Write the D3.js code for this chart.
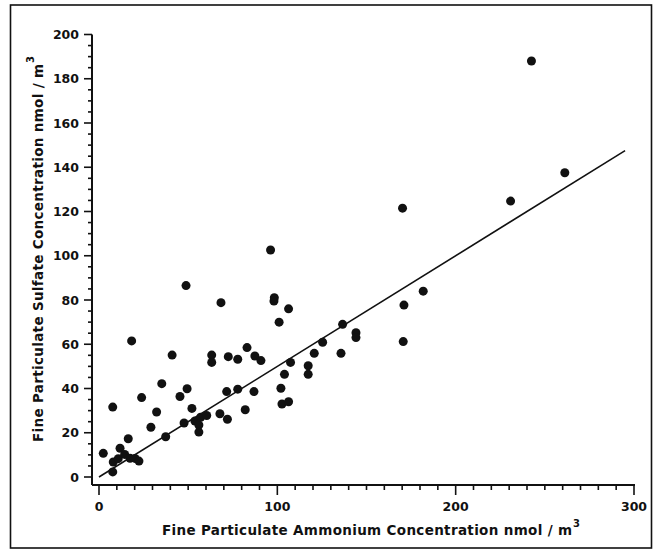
<!DOCTYPE html>
<html>
<head>
<meta charset="utf-8">
<script src="https://cdn.jsdelivr.net/npm/d3@7"></script>
<style>
  html, body { margin: 0; padding: 0; background: #fff; }
  svg { display: block; }
  text { font-family: "DejaVu Sans", sans-serif; font-weight: bold; fill: #111; }
</style>
</head>
<body>
<svg id="chart" width="658" height="554"></svg>
<script>
// Fine particulate ammonium (x) vs sulfate (y), nmol/m3
const ammonium = [2.4, 7.7, 7.7, 8, 10.8, 11.8, 14.4, 17.4, 20.2, 22.4, 16.4, 18.3, 23.9, 29.1, 32.3, 35.2, 37.4, 41, 45.4, 47.7,
  48.8, 49.4, 52.1, 53.8, 56, 56, 57, 60.4, 63.2, 63.2, 67.8, 68.4, 71.6, 72, 72.5, 77.8, 77.8, 82, 83, 86.9,
  87.4, 90.8, 96.2, 98.1, 98.3, 101, 102, 102.6, 104, 106.3, 106.3, 107.4, 117.3, 117.3, 120.7, 125.4, 135.7, 136.6, 144.1, 144.1,
  170.6, 171, 170.2, 181.8, 230.8, 242.5, 261.2];
const sulfate = [10.7, 31.6, 2.3, 6.8, 8.3, 13, 10.2, 8.5, 8.4, 7.2, 17.3, 61.5, 35.9, 22.5, 29.4, 42.2, 18.2, 55.1, 36.4, 24.4,
  86.5, 39.9, 31, 25.3, 23.5, 20.3, 27, 27.8, 55.1, 51.8, 28.6, 78.8, 38.6, 26.1, 54.4, 53.2, 39.7, 30.4, 58.5, 38.6,
  54.7, 52.6, 102.6, 79.5, 81, 70, 40.1, 33, 46.4, 76, 34, 51.8, 50.3, 46.4, 55.9, 60.9, 55.9, 69, 65.2, 63,
  61.2, 77.7, 121.5, 84, 124.7, 188, 137.5];
const fitX = [0, 295];
const fitY = [0, 147.5];
const xTickLabels = [0, 100, 200, 300];
const yTickLabels = [0, 20, 40, 60, 80, 100, 120, 140, 160, 180, 200];
const xTitle = "Fine Particulate  Ammonium Concentration nmol / m";
const yTitle = "Fine Particulate Sulfate Concentration nmol / m";

const svg = d3.select("#chart");
const x = d3.scaleLinear().domain([0, 300]).range([99, 634]);
const y = d3.scaleLinear().domain([0, 200]).range([477, 34.5]);
const axisX = 92, axisY = 485;

// outer frame
svg.append("rect").attr("x", 10.5).attr("y", 5).attr("width", 641).attr("height", 543)
  .attr("fill", "none").attr("stroke", "#111").attr("stroke-width", 1.6);

// y axis
const gy = svg.append("g");
gy.append("line").attr("x1", axisX).attr("x2", axisX).attr("y1", y(200)).attr("y2", axisY)
  .attr("stroke", "#111").attr("stroke-width", 2);
gy.selectAll("line.tk").data(d3.range(0, 201, 5)).join("line").attr("class", "tk")
  .attr("x1", d => axisX - (d % 20 === 0 ? 8 : 4)).attr("x2", axisX)
  .attr("y1", d => y(d)).attr("y2", d => y(d))
  .attr("stroke", "#111").attr("stroke-width", 1.6);
gy.selectAll("text").data(yTickLabels).join("text")
  .attr("x", 79).attr("y", d => y(d)).attr("dy", "0.36em")
  .attr("text-anchor", "end").attr("font-size", 12.5).text(d => d);

// x axis
const gx = svg.append("g");
gx.append("line").attr("x1", axisX).attr("x2", x(300) + 1).attr("y1", axisY).attr("y2", axisY)
  .attr("stroke", "#111").attr("stroke-width", 2);
gx.selectAll("line.tk").data(d3.range(0, 301, 10)).join("line").attr("class", "tk")
  .attr("x1", d => x(d)).attr("x2", d => x(d))
  .attr("y1", axisY).attr("y2", d => axisY + (d % 100 === 0 ? 10 : 5))
  .attr("stroke", "#111").attr("stroke-width", 1.6);
gx.selectAll("text").data(xTickLabels).join("text")
  .attr("x", d => x(d)).attr("y", 511)
  .attr("text-anchor", "middle").attr("font-size", 12.5).text(d => d);

// axis titles
svg.append("text").attr("x", 162).attr("y", 535).attr("font-size", 13.5)
  .attr("textLength", 410).attr("lengthAdjust", "spacing").text(xTitle);
svg.append("text").attr("x", 573).attr("y", 527).attr("font-size", 10).text("3");

svg.append("text").attr("transform", "translate(43,442) rotate(-90)")
  .attr("font-size", 13.5).attr("textLength", 378).attr("lengthAdjust", "spacing").text(yTitle);
svg.append("text").attr("transform", "translate(34,63) rotate(-90)")
  .attr("font-size", 10).text("3");

// regression line
svg.append("line")
  .attr("x1", x(fitX[0])).attr("y1", y(fitY[0]))
  .attr("x2", x(fitX[1])).attr("y2", y(fitY[1]))
  .attr("stroke", "#111").attr("stroke-width", 1.6);

// points
svg.append("g").selectAll("circle").data(ammonium.map((a, i) => [a, sulfate[i]])).join("circle")
  .attr("cx", d => x(d[0])).attr("cy", d => y(d[1])).attr("r", 4.5).attr("fill", "#111");
</script>
</body>
</html>
